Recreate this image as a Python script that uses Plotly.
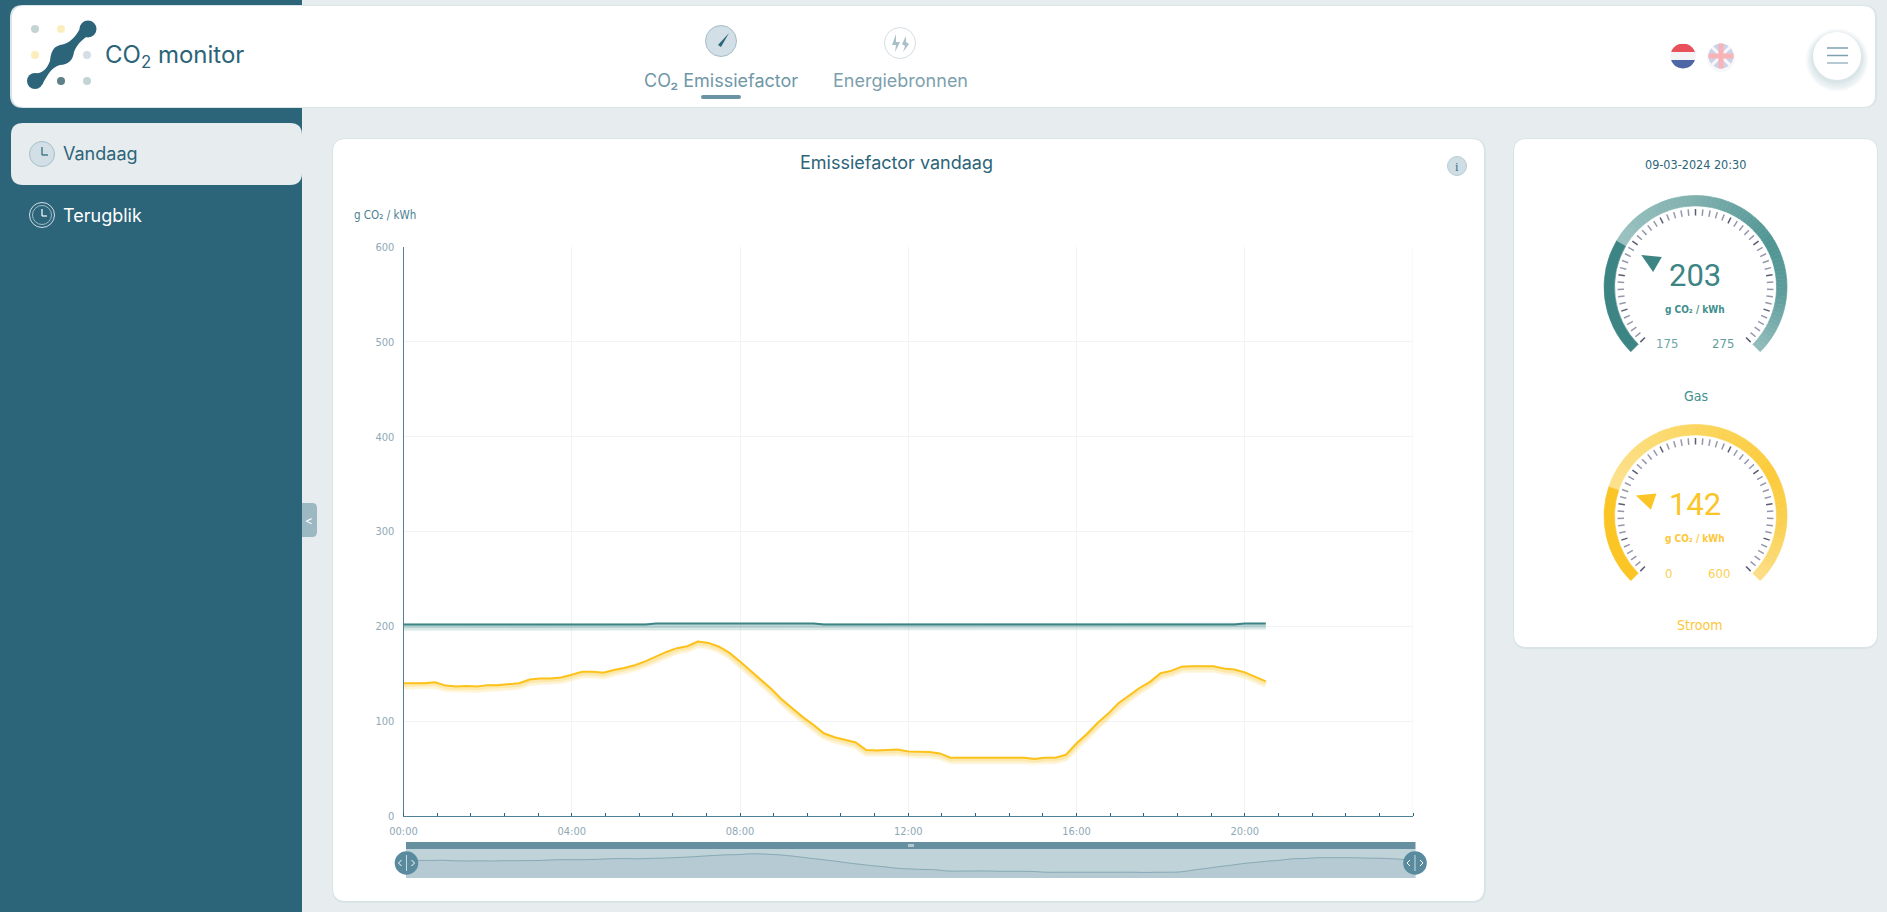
import math
import plotly.graph_objects as go

W = 1887
H = 912

# data, one value per 15 minutes
times = ["00:00", "00:15", "00:30", "00:45", "01:00", "01:15", "01:30", "01:45", "02:00", "02:15", "02:30", "02:45",
         "03:00", "03:15", "03:30", "03:45", "04:00", "04:15", "04:30", "04:45", "05:00", "05:15", "05:30", "05:45",
         "06:00", "06:15", "06:30", "06:45", "07:00", "07:15", "07:30", "07:45", "08:00", "08:15", "08:30", "08:45",
         "09:00", "09:15", "09:30", "09:45", "10:00", "10:15", "10:30", "10:45", "11:00", "11:15", "11:30", "11:45",
         "12:00", "12:15", "12:30", "12:45", "13:00", "13:15", "13:30", "13:45", "14:00", "14:15", "14:30", "14:45",
         "15:00", "15:15", "15:30", "15:45", "16:00", "16:15", "16:30", "16:45", "17:00", "17:15", "17:30", "17:45",
         "18:00", "18:15", "18:30", "18:45", "19:00", "19:15", "19:30", "19:45", "20:00", "20:15", "20:30"]
stroom = [140, 140, 140, 141, 137.5, 136.5, 137, 136.5, 138, 138, 139, 140,
          144, 145, 145, 146, 149, 152, 152, 151, 154, 156, 159, 163,
          168, 173, 177, 179, 184, 182.5, 178.5, 172, 163, 153, 143.5, 133.7,
          122.5, 113, 104, 96, 87, 83, 80, 77.5, 69.5, 69, 69.5, 70,
          68, 67.5, 67.5, 66, 61.5, 61.5, 61.5, 61.5, 61.5, 61.5, 61.5, 61.5,
          60, 61.5, 61.5, 64.5, 76.5, 86.5, 98, 107.7, 119, 127, 135, 141.5,
          150.5, 153, 157.5, 158, 158, 158, 155.5, 154.5, 151.5, 146.5, 142]
gas = [202] * 24 + [203] * 16 + [202] * 40 + [203] * 3

x_tick_vals = ["00:00", "04:00", "08:00", "12:00", "16:00", "20:00"]
y_ticks = [0, 100, 200, 300, 400, 500, 600]

gas_now = 203
gas_min = 175
gas_max = 275
stroom_now = 142
stroom_min = 0
stroom_max = 600

# colours
DARK = "#2c6479"
BG = "#e7edef"
CARD_EDGE = "#d9e4e6"
TEAL = "#3d8585"
YELLOW = "#fcc21b"
GAUGE_YELLOW = "#fcc526"
TICK_TEXT = "#8fa9b6"
GRID = "#f1f4f5"
NARROW = "DejaVu Sans Condensed, Roboto"
ROUND = "Inter, Noto Sans"


def date(t):
    if t == "24:00":
        return "2024-03-10 00:00"
    return "2024-03-09 " + t


def fx(x):
    return x / W


def fy(y):
    return 1 - y / H


def p(x, y):
    return f"{fx(x):.5f},{fy(y):.5f}"


shapes = []
annotations = []


def rect(x0, y0, x1, y1, color, r=0, layer="below", left=True):
    # rounded rect as a path in page fractions
    rl = r if left else 0
    d = (f"M{p(x0 + rl, y0)} L{p(x1 - r, y0)} Q{p(x1, y0)} {p(x1, y0 + r)} L{p(x1, y1 - r)} Q{p(x1, y1)} {p(x1 - r, y1)} "
         f"L{p(x0 + rl, y1)} Q{p(x0, y1)} {p(x0, y1 - rl)} L{p(x0, y0 + rl)} Q{p(x0, y0)} {p(x0 + rl, y0)} Z")
    shapes.append(dict(type="path", path=d, xref="paper", yref="paper", fillcolor=color,
                       line=dict(width=0), layer=layer))


def circle(cx, cy, r, fill, line=None, lw=1, layer="below"):
    shapes.append(dict(type="circle", xref="paper", yref="paper", x0=fx(cx - r), x1=fx(cx + r),
                       y0=fy(cy + r), y1=fy(cy - r), fillcolor=fill,
                       line=dict(width=lw if line else 0, color=line or "rgba(0,0,0,0)"), layer=layer))


def seg(x0, y0, x1, y1, color, lw=1, layer="below"):
    shapes.append(dict(type="line", xref="paper", yref="paper", x0=fx(x0), x1=fx(x1), y0=fy(y0), y1=fy(y1),
                       line=dict(color=color, width=lw), layer=layer))


def poly(points, color, layer="below"):
    d = "M" + " L".join(p(x, y) for x, y in points) + " Z"
    shapes.append(dict(type="path", path=d, xref="paper", yref="paper", fillcolor=color,
                       line=dict(width=0), layer=layer))


def label(x, y, text, size, color, font=NARROW, anchor="center", weight=None):
    f = dict(size=size, color=color, family=font)
    if weight:
        f["weight"] = weight
    annotations.append(dict(x=fx(x), y=fy(y), xref="paper", yref="paper", text=text, showarrow=False,
                            xanchor=anchor, yanchor="middle", font=f))


def band(cx, cy, r, y0, y1, color):
    # part of a circle between two heights, for the flag
    pts = []
    for i in range(13):
        y = y0 + (y1 - y0) * i / 12
        pts.append((cx - math.sqrt(max(r * r - (y - cy) ** 2, 0)), y))
    for i in range(13):
        y = y1 + (y0 - y1) * i / 12
        pts.append((cx + math.sqrt(max(r * r - (y - cy) ** 2, 0)), y))
    poly(pts, color)


# page background parts
rect(0, 0, 302, H, DARK)
rect(10, 5, 1877, 108, CARD_EDGE, r=13)
rect(12, 6, 1875, 107, "white", r=12)
rect(11, 123, 302, 185, BG, r=12)
rect(332, 138, 1486, 903, CARD_EDGE, r=14)
rect(333, 139, 1484, 901, "white", r=13)
rect(1513, 138, 1878, 649, CARD_EDGE, r=14)
rect(1514, 139, 1877, 647, "white", r=13)
rect(302, 503, 317, 537, "#9bb8c3", r=5, left=False)
label(309, 520, "&lt;", 12, "white", font=ROUND)

# logo
for (lx, ly, lc) in [(35, 29, "#c4d4d4"), (61, 29, "#fbeebc"), (35, 55, "#fbeebc"),
                     (87, 55, "#d5dee4"), (61, 81, "#5f7f89"), (87, 81, "#c4d4d4")]:
    circle(lx, ly, 4, lc)
d = (f"M{p(33, 74)} C{p(42, 74)} {p(47, 69)} {p(50, 61)} C{p(51, 52)} {p(53, 47)} {p(60, 45)} "
     f"C{p(70, 44)} {p(76, 36)} {p(81, 27)} L{p(92, 34)} C{p(84, 37)} {p(77, 44)} {p(74, 52)} "
     f"C{p(73, 60)} {p(68, 65)} {p(60, 65)} C{p(52, 67)} {p(48, 74)} {p(42, 85)} Z")
shapes.append(dict(type="path", path=d, xref="paper", yref="paper", fillcolor=DARK, line=dict(width=0), layer="below"))
circle(35, 81, 8, DARK)
circle(88, 29, 8.5, DARK)
label(103, 56, "CO<sub>2</sub> monitor", 24, DARK, font=ROUND, anchor="left")

# side menu
circle(42, 154, 12.5, "#d3dfe6", "#a5bec9")
seg(42, 147, 42, 155, DARK, 1.2)
seg(42, 155, 48, 155, DARK, 1.2)
label(61, 153, "Vandaag", 18, DARK, font=ROUND, anchor="left")
circle(42, 215, 12.5, "rgba(0,0,0,0)", "#d3dfe6")
circle(42, 215, 9.5, "rgba(0,0,0,0)", "#9fbac5")
seg(42, 209, 42, 216, "white", 1.2)
seg(42, 216, 47, 216, "white", 1.2)
label(61, 215, "Terugblik", 18, "white", font=ROUND, anchor="left")

# top menu
circle(721, 41, 15.5, "#d3dfe6", "#a5bec9")
poly([(718, 45), (721, 47), (729, 33)], DARK)
label(721, 80, "CO₂ Emissiefactor", 18, "#6f97a7", font=ROUND)
rect(701, 95, 741, 99, "#6a94a5", r=2)
circle(900, 43, 15.5, "white", "#d5dee4")
poly([(896, 34), (892, 45), (896, 45), (895, 52), (900, 42), (896, 42)], "#a9c0c9")
poly([(906, 36), (902, 44), (905, 46), (903, 52), (909, 44), (906, 42)], "#a9c0c9")
label(900, 80, "Energiebronnen", 18, "#7d9fae", font=ROUND)

# flags and menu button
circle(1683, 56, 12.5, BG)
band(1683, 56, 12.5, 44, 52, "#e9505a")
band(1683, 56, 12.5, 52, 60, "#f3f3f6")
band(1683, 56, 12.5, 60, 68.5, "#4d66a5")
circle(1721, 58, 14, "#f6f8f9")
circle(1721, 56, 12.5, "#ccd2e8")
seg(1712, 47, 1730, 65, "#f8f8fb", 3)
seg(1730, 47, 1712, 65, "#f8f8fb", 3)
seg(1721, 43.5, 1721, 68.5, "#f7b3b5", 5)
seg(1708.5, 56, 1733.5, 56, "#f7b3b5", 5)
for sr, sy in ((31, 60), (29, 60), (27, 59), (25.5, 58)):
    circle(1837, sy, sr, "rgba(110,150,165,0.07)")
circle(1837, 56, 24, "white")
seg(1827, 48, 1848, 48, "#7ba0ae", 1.5)
seg(1827, 55.5, 1848, 55.5, "#7ba0ae", 1.5)
seg(1827, 63, 1848, 63, "#9db9c3", 1.5)

# chart card texts
label(896, 163, "Emissiefactor vandaag", 18, DARK, font=ROUND)
circle(1457, 166, 9.5, "#cfdde4", "#b8ccd5")
label(1457, 166, "i", 13, "#3c6f82", font="Liberation Serif")
label(352, 215, "g CO₂ / kWh", 11.5, "#4c7f92", anchor="left")

# zoom slider behind the small chart
SX0 = 406
SX1 = 1415.5
rect(SX0, 842, SX1, 849, "#6690a0")
rect(SX0, 849, SX1, 878, "#bfd3d9")
for i in (-2, 0, 2):
    seg(911 + i, 844, 911 + i, 847, "white", 1)


def mix(c1, c2, t):
    a = [int(c1[i:i + 2], 16) for i in (1, 3, 5)]
    b = [int(c2[i:i + 2], 16) for i in (1, 3, 5)]
    return "rgb({},{},{})".format(*[round(a[i] + (b[i] - a[i]) * t) for i in range(3)])


def gradient(stops, t):
    # stops are (position, colour), t runs 0..1
    for (p0, c0), (p1, c1) in zip(stops, stops[1:]):
        if t <= p1:
            return mix(c0, c1, (t - p0) / (p1 - p0))
    return stops[-1][1]


def gauge_angle(value, vmin, vmax):
    # math angle in degrees, 225 at the low end, -45 at the high end
    return 225 - 270 * (value - vmin) / (vmax - vmin)


def pie_gauge(cx, cy, value, vmin, vmax, color, stops):
    # donut of 270 degrees: solid part up to the value, gradient after it, gap at the bottom
    part = (value - vmin) / (vmax - vmin) * 270
    n = 70
    rest = (270 - part) / n
    vals = [part] + [rest] * n + [90]
    cols = [color] + [gradient(stops, (part + rest * (i + 0.5)) / 270) for i in range(n)] + ["rgba(0,0,0,0)"]
    r = 91.5
    return go.Pie(values=vals, sort=False, direction="clockwise", rotation=225, hole=0.885,
                  marker=dict(colors=cols, line=dict(color=cols, width=0.6)), textinfo="none", hoverinfo="skip",
                  showlegend=False, domain=dict(x=[fx(cx - r), fx(cx + r)], y=[fy(cy + r), fy(cy - r)]))


def gauge_marks(cx, cy, value, vmin, vmax, color):
    for i in range(51):
        a = math.radians(225 - i * 5.4)
        heavy = i % 5 == 0
        seg(cx + 71.5 * math.cos(a), cy - 71.5 * math.sin(a), cx + 78 * math.cos(a), cy - 78 * math.sin(a),
            "#5b5c72" if heavy else "#9697ab", 1.5)
    a = gauge_angle(value, vmin, vmax)
    pts = []
    for r, da in ((63, 0), (45, -11), (45, 11)):
        t = math.radians(a + da)
        pts.append((cx + r * math.cos(t), cy - r * math.sin(t)))
    poly(pts, color)


GCX = 1695.5
gas_stops = [(0, "#bdd8d8"), (0.5, "#7fb0ae"), (0.72, "#4f9594"), (0.85, "#5f9d9c"), (1, "#93bcbc")]
stroom_stops = [(0, "#fdecb8"), (0.5, "#fbd660"), (0.72, "#fbcb3a"), (0.85, "#fad050"), (1, "#fcdf88")]

gauge_marks(GCX, 287, gas_now, gas_min, gas_max, TEAL)
gauge_marks(GCX, 516, stroom_now, stroom_min, stroom_max, GAUGE_YELLOW)

label(1695, 164, "09-03-2024 20:30", 12.5, DARK)
label(1695, 275, str(gas_now), 31, TEAL, font="Roboto")
label(1695, 309, "g CO₂ / kWh", 10, "#3f8f8f", weight=700)
label(1667, 343, str(gas_min), 13, "#6fa5a5")
label(1723, 343, str(gas_max), 13, "#5f9d9c")
label(1696, 396, "Gas", 14, "#3f8f8f")
label(1695, 504, str(stroom_now), 31, GAUGE_YELLOW, font="Roboto")
label(1695, 538, "g CO₂ / kWh", 10, "#fcc83a", weight=700)
label(1668, 573, str(stroom_min), 13, "#fccf50")
label(1719, 573, str(stroom_max), 13, "#fccf50")
label(1699, 625, "Stroom", 14, "#fcc83a")

# slider handles go on top of the small chart
for hx in (406.5, 1415):
    circle(hx, 863, 11.8, "#5a8a9e", layer="above")
    seg(hx, 855, hx, 871, "#c9dae0", 1, layer="above")
    seg(hx - 5, 860, hx - 8, 863, "white", 1, layer="above")
    seg(hx - 8, 863, hx - 5, 866, "white", 1, layer="above")
    seg(hx + 5, 860, hx + 8, 863, "white", 1, layer="above")
    seg(hx + 8, 863, hx + 5, 866, "white", 1, layer="above")

# last vertical grid line, the tick there has no label
shapes.append(dict(type="line", xref="x", yref="paper", x0=date("24:00"), x1=date("24:00"), y0=fy(816), y1=fy(247),
                   line=dict(color=GRID, width=1), layer="below"))

xs = [date(t) for t in times]
fig = go.Figure()

# soft shadow under both lines, then the lines
for vals, col in ((gas, TEAL), (stroom, YELLOW)):
    for off, lw, op in ((4.5, 5, 0.07), (3, 6, 0.12), (1.5, 4.5, 0.22)):
        fig.add_trace(go.Scatter(x=xs, y=[v - off for v in vals], mode="lines", hoverinfo="skip", showlegend=False,
                                 line=dict(color=col, width=lw), opacity=op))
fig.add_trace(go.Scatter(x=xs, y=gas, name="Gas", mode="lines", showlegend=False, line=dict(color=TEAL, width=2)))
fig.add_trace(go.Scatter(x=xs, y=stroom, name="Stroom", mode="lines", showlegend=False,
                         line=dict(color=YELLOW, width=2)))

# small overview chart, stretched over the full slider like the original
fig.add_trace(go.Scatter(x=list(range(len(stroom))), y=stroom, xaxis="x2", yaxis="y2", mode="lines", fill="tozeroy",
                         fillcolor="#b5cad2", line=dict(color="#86a8b4", width=1, shape="spline", smoothing=1.3),
                         hoverinfo="skip", showlegend=False))

fig.add_trace(pie_gauge(GCX, 287, gas_now, gas_min, gas_max, TEAL, gas_stops))
fig.add_trace(pie_gauge(GCX, 516, stroom_now, stroom_min, stroom_max, GAUGE_YELLOW, stroom_stops))

fig.update_layout(
    width=W,
    height=H,
    margin=dict(l=0, r=0, t=0, b=0, pad=0, autoexpand=False),
    paper_bgcolor=BG,
    plot_bgcolor="rgba(0,0,0,0)",
    shapes=shapes,
    annotations=annotations,
    xaxis=dict(
        domain=[fx(403.5), fx(1413)],
        type="date",
        range=[date("00:00"), date("24:00")],
        tickmode="array",
        tickvals=[date(t) for t in x_tick_vals],
        ticktext=x_tick_vals,
        ticks="",
        ticklabelstandoff=5,
        tickfont=dict(family=NARROW, size=11, color=TICK_TEXT),
        showgrid=True,
        gridcolor=GRID,
        gridwidth=1,
        showline=True,
        linecolor="#4f8096",
        linewidth=1,
        zeroline=False,
        anchor="y",
        minor=dict(dtick=48 * 60 * 1000, tick0=date("00:00"), ticks="inside", ticklen=3,
                   tickcolor=DARK, tickwidth=1, showgrid=False),
    ),
    yaxis=dict(
        domain=[fy(816), fy(247)],
        range=[0, 600],
        tickmode="array",
        tickvals=y_ticks,
        ticks="",
        ticklabelstandoff=6,
        tickfont=dict(family=NARROW, size=11, color=TICK_TEXT),
        showgrid=True,
        gridcolor=GRID,
        gridwidth=1,
        showline=True,
        linecolor="#4f8096",
        linewidth=1,
        zeroline=False,
        anchor="x",
    ),
    xaxis2=dict(domain=[fx(SX0), fx(SX1)], range=[0, len(stroom) - 1], visible=False, anchor="y2"),
    yaxis2=dict(domain=[fy(878), fy(849)], range=[23, 216], visible=False, anchor="x2"),
)

fig.write_html("out.html", config=dict(displayModeBar=False),
               post_script="document.body.style.margin='0';document.body.style.overflow='hidden';")
